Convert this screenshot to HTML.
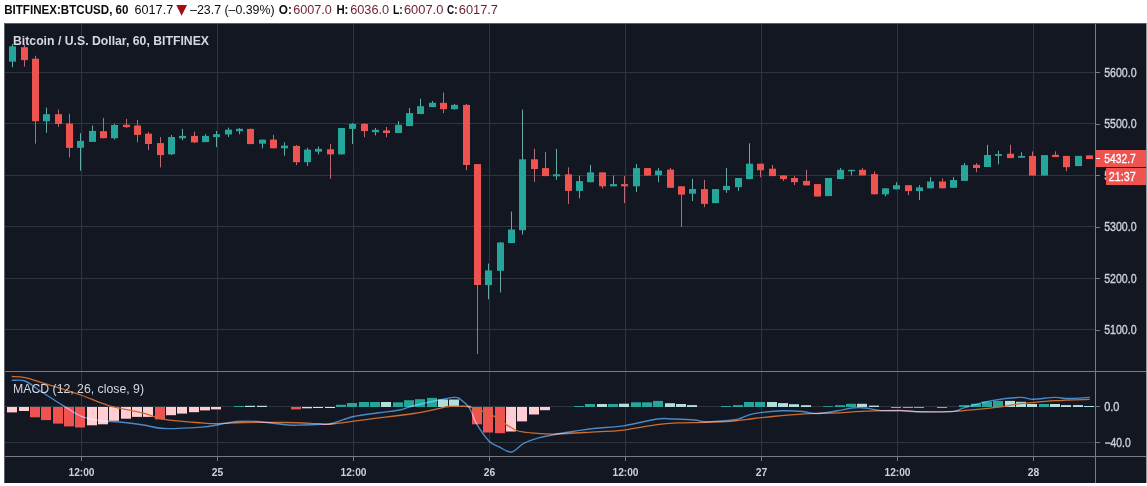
<!DOCTYPE html>
<html><head><meta charset="utf-8"><style>
html,body{margin:0;padding:0;background:#fff;width:1147px;height:486px;overflow:hidden;position:relative;font-family:"Liberation Sans",sans-serif;}
.t{position:absolute;white-space:nowrap;line-height:1;}
</style></head><body>
<svg width="1147" height="486" style="position:absolute;left:0;top:0">
<rect x="4" y="23" width="1143" height="460" fill="#131722"/>
<rect x="4" y="23" width="1143" height="1" fill="#5d606b"/>
<rect x="4" y="23" width="1" height="460" fill="#5d606b"/>
<rect x="1146" y="23" width="1" height="460" fill="#9598a1"/>
<rect x="81" y="24" width="1" height="432" fill="#30343f"/>
<rect x="217" y="24" width="1" height="432" fill="#30343f"/>
<rect x="353" y="24" width="1" height="432" fill="#30343f"/>
<rect x="489" y="24" width="1" height="432" fill="#30343f"/>
<rect x="625" y="24" width="1" height="432" fill="#30343f"/>
<rect x="761" y="24" width="1" height="432" fill="#30343f"/>
<rect x="897" y="24" width="1" height="432" fill="#30343f"/>
<rect x="1033" y="24" width="1" height="432" fill="#30343f"/>
<rect x="5" y="72" width="1090" height="1" fill="#30343f"/>
<rect x="5" y="123" width="1090" height="1" fill="#30343f"/>
<rect x="5" y="175" width="1090" height="1" fill="#30343f"/>
<rect x="5" y="226" width="1090" height="1" fill="#30343f"/>
<rect x="5" y="278" width="1090" height="1" fill="#30343f"/>
<rect x="5" y="329" width="1090" height="1" fill="#30343f"/>
<rect x="5" y="406" width="1090" height="1" fill="#30343f"/>
<rect x="5" y="442" width="1090" height="1" fill="#30343f"/>
<rect x="12" y="44.0" width="1" height="23.3" fill="#62aaa4"/>
<rect x="9" y="46.3" width="7" height="15.3" fill="#26a69a"/>
<rect x="24" y="44.3" width="1" height="22.2" fill="#b86a74"/>
<rect x="21" y="47.2" width="7" height="12.9" fill="#ef5350"/>
<rect x="35" y="55.8" width="1" height="87.8" fill="#b86a74"/>
<rect x="32" y="58.7" width="7" height="62.5" fill="#ef5350"/>
<rect x="46" y="107.6" width="1" height="25.1" fill="#62aaa4"/>
<rect x="43" y="114.2" width="7" height="7.0" fill="#26a69a"/>
<rect x="58" y="109.6" width="1" height="17.3" fill="#b86a74"/>
<rect x="55" y="114.2" width="7" height="9.8" fill="#ef5350"/>
<rect x="69" y="113.7" width="1" height="43.7" fill="#b86a74"/>
<rect x="66" y="123.5" width="7" height="24.4" fill="#ef5350"/>
<rect x="80" y="133.2" width="1" height="37.5" fill="#62aaa4"/>
<rect x="77" y="140.9" width="7" height="6.9" fill="#26a69a"/>
<rect x="92" y="125.5" width="1" height="16.5" fill="#62aaa4"/>
<rect x="89" y="130.9" width="7" height="11.0" fill="#26a69a"/>
<rect x="103" y="117.8" width="1" height="20.4" fill="#b86a74"/>
<rect x="100" y="131.2" width="7" height="7.0" fill="#ef5350"/>
<rect x="114" y="123.8" width="1" height="15.7" fill="#62aaa4"/>
<rect x="111" y="125.0" width="7" height="13.2" fill="#26a69a"/>
<rect x="126" y="118.9" width="1" height="9.1" fill="#b86a74"/>
<rect x="123" y="124.7" width="7" height="2.4" fill="#ef5350"/>
<rect x="137" y="120.0" width="1" height="22.4" fill="#b86a74"/>
<rect x="134" y="125.5" width="7" height="9.4" fill="#ef5350"/>
<rect x="148" y="132.0" width="1" height="18.2" fill="#b86a74"/>
<rect x="145" y="133.7" width="7" height="10.3" fill="#ef5350"/>
<rect x="160" y="137.0" width="1" height="30.4" fill="#b86a74"/>
<rect x="157" y="143.1" width="7" height="12.0" fill="#ef5350"/>
<rect x="171" y="134.9" width="1" height="20.1" fill="#62aaa4"/>
<rect x="168" y="137.0" width="7" height="17.3" fill="#26a69a"/>
<rect x="182" y="128.8" width="1" height="11.5" fill="#62aaa4"/>
<rect x="179" y="135.9" width="7" height="2.4" fill="#26a69a"/>
<rect x="194" y="131.6" width="1" height="11.4" fill="#b86a74"/>
<rect x="191" y="135.9" width="7" height="6.5" fill="#ef5350"/>
<rect x="205" y="134.2" width="1" height="7.9" fill="#62aaa4"/>
<rect x="202" y="135.9" width="7" height="6.2" fill="#26a69a"/>
<rect x="216" y="131.0" width="1" height="16.0" fill="#62aaa4"/>
<rect x="213" y="134.2" width="7" height="2.9" fill="#26a69a"/>
<rect x="228" y="127.6" width="1" height="9.4" fill="#62aaa4"/>
<rect x="225" y="129.6" width="7" height="4.9" fill="#26a69a"/>
<rect x="239" y="128.0" width="1" height="6.2" fill="#62aaa4"/>
<rect x="236" y="128.8" width="7" height="2.4" fill="#26a69a"/>
<rect x="250" y="128.5" width="1" height="15.6" fill="#b86a74"/>
<rect x="247" y="128.9" width="7" height="15.2" fill="#ef5350"/>
<rect x="262" y="139.6" width="1" height="8.7" fill="#62aaa4"/>
<rect x="259" y="139.6" width="7" height="4.1" fill="#26a69a"/>
<rect x="273" y="134.8" width="1" height="13.5" fill="#b86a74"/>
<rect x="270" y="139.6" width="7" height="8.7" fill="#ef5350"/>
<rect x="284" y="142.2" width="1" height="13.5" fill="#62aaa4"/>
<rect x="281" y="145.6" width="7" height="2.7" fill="#26a69a"/>
<rect x="296" y="145.0" width="1" height="20.0" fill="#b86a74"/>
<rect x="293" y="145.9" width="7" height="16.3" fill="#ef5350"/>
<rect x="307" y="147.8" width="1" height="18.1" fill="#62aaa4"/>
<rect x="304" y="149.6" width="7" height="12.6" fill="#26a69a"/>
<rect x="318" y="146.5" width="1" height="7.9" fill="#62aaa4"/>
<rect x="315" y="148.9" width="7" height="2.8" fill="#26a69a"/>
<rect x="330" y="144.0" width="1" height="34.9" fill="#b86a74"/>
<rect x="327" y="149.3" width="7" height="5.1" fill="#ef5350"/>
<rect x="341" y="128.0" width="1" height="26.4" fill="#62aaa4"/>
<rect x="338" y="128.0" width="7" height="26.4" fill="#26a69a"/>
<rect x="352" y="123.0" width="1" height="21.0" fill="#62aaa4"/>
<rect x="349" y="123.9" width="7" height="5.0" fill="#26a69a"/>
<rect x="364" y="123.0" width="1" height="14.2" fill="#b86a74"/>
<rect x="361" y="123.9" width="7" height="7.2" fill="#ef5350"/>
<rect x="375" y="128.0" width="1" height="7.4" fill="#62aaa4"/>
<rect x="372" y="129.8" width="7" height="2.4" fill="#26a69a"/>
<rect x="386" y="127.0" width="1" height="10.2" fill="#b86a74"/>
<rect x="383" y="130.4" width="7" height="2.6" fill="#ef5350"/>
<rect x="398" y="121.1" width="1" height="11.9" fill="#62aaa4"/>
<rect x="395" y="124.8" width="7" height="8.2" fill="#26a69a"/>
<rect x="409" y="108.0" width="1" height="18.1" fill="#62aaa4"/>
<rect x="406" y="113.1" width="7" height="13.0" fill="#26a69a"/>
<rect x="420" y="98.7" width="1" height="15.3" fill="#62aaa4"/>
<rect x="417" y="106.2" width="7" height="7.8" fill="#26a69a"/>
<rect x="432" y="101.0" width="1" height="6.1" fill="#62aaa4"/>
<rect x="429" y="102.8" width="7" height="4.3" fill="#26a69a"/>
<rect x="443" y="92.5" width="1" height="20.6" fill="#b86a74"/>
<rect x="440" y="102.8" width="7" height="6.4" fill="#ef5350"/>
<rect x="454" y="104.0" width="1" height="5.5" fill="#62aaa4"/>
<rect x="451" y="104.9" width="7" height="4.3" fill="#26a69a"/>
<rect x="466" y="104.0" width="1" height="66.2" fill="#b86a74"/>
<rect x="463" y="104.9" width="7" height="60.1" fill="#ef5350"/>
<rect x="477" y="164.0" width="1" height="190.0" fill="#b86a74"/>
<rect x="474" y="164.1" width="7" height="120.9" fill="#ef5350"/>
<rect x="488" y="263.6" width="1" height="35.7" fill="#62aaa4"/>
<rect x="485" y="270.4" width="7" height="14.7" fill="#26a69a"/>
<rect x="500" y="242.0" width="1" height="50.5" fill="#62aaa4"/>
<rect x="497" y="242.5" width="7" height="28.3" fill="#26a69a"/>
<rect x="511" y="211.6" width="1" height="31.5" fill="#62aaa4"/>
<rect x="508" y="229.5" width="7" height="13.6" fill="#26a69a"/>
<rect x="522" y="109.6" width="1" height="124.9" fill="#62aaa4"/>
<rect x="519" y="159.3" width="7" height="70.9" fill="#26a69a"/>
<rect x="534" y="148.7" width="1" height="33.3" fill="#b86a74"/>
<rect x="531" y="159.3" width="7" height="9.7" fill="#ef5350"/>
<rect x="545" y="152.0" width="1" height="24.1" fill="#b86a74"/>
<rect x="542" y="168.1" width="7" height="8.0" fill="#ef5350"/>
<rect x="556" y="148.9" width="1" height="30.9" fill="#62aaa4"/>
<rect x="553" y="174.3" width="7" height="2.0" fill="#26a69a"/>
<rect x="568" y="167.4" width="1" height="36.5" fill="#b86a74"/>
<rect x="565" y="174.3" width="7" height="16.6" fill="#ef5350"/>
<rect x="579" y="175.6" width="1" height="22.7" fill="#62aaa4"/>
<rect x="576" y="181.1" width="7" height="9.8" fill="#26a69a"/>
<rect x="590" y="165.0" width="1" height="17.2" fill="#62aaa4"/>
<rect x="587" y="172.4" width="7" height="9.8" fill="#26a69a"/>
<rect x="602" y="172.4" width="1" height="16.1" fill="#b86a74"/>
<rect x="599" y="172.4" width="7" height="13.9" fill="#ef5350"/>
<rect x="613" y="175.6" width="1" height="10.7" fill="#62aaa4"/>
<rect x="610" y="184.1" width="7" height="2.2" fill="#26a69a"/>
<rect x="624" y="176.1" width="1" height="26.9" fill="#b86a74"/>
<rect x="621" y="184.1" width="7" height="2.2" fill="#ef5350"/>
<rect x="636" y="164.0" width="1" height="27.9" fill="#62aaa4"/>
<rect x="633" y="168.1" width="7" height="18.2" fill="#26a69a"/>
<rect x="647" y="168.1" width="1" height="7.5" fill="#b86a74"/>
<rect x="644" y="168.1" width="7" height="7.5" fill="#ef5350"/>
<rect x="658" y="168.1" width="1" height="14.1" fill="#62aaa4"/>
<rect x="655" y="170.6" width="7" height="4.6" fill="#26a69a"/>
<rect x="670" y="168.0" width="1" height="19.8" fill="#b86a74"/>
<rect x="667" y="169.6" width="7" height="18.2" fill="#ef5350"/>
<rect x="681" y="186.3" width="1" height="40.7" fill="#b86a74"/>
<rect x="678" y="186.3" width="7" height="8.3" fill="#ef5350"/>
<rect x="692" y="178.9" width="1" height="22.2" fill="#62aaa4"/>
<rect x="689" y="189.0" width="7" height="4.7" fill="#26a69a"/>
<rect x="704" y="179.8" width="1" height="27.4" fill="#b86a74"/>
<rect x="701" y="189.1" width="7" height="14.8" fill="#ef5350"/>
<rect x="715" y="189.0" width="1" height="14.1" fill="#62aaa4"/>
<rect x="712" y="189.1" width="7" height="14.0" fill="#26a69a"/>
<rect x="726" y="168.0" width="1" height="24.8" fill="#62aaa4"/>
<rect x="723" y="185.9" width="7" height="4.3" fill="#26a69a"/>
<rect x="738" y="178.0" width="1" height="12.9" fill="#62aaa4"/>
<rect x="735" y="178.0" width="7" height="9.2" fill="#26a69a"/>
<rect x="749" y="143.3" width="1" height="35.8" fill="#62aaa4"/>
<rect x="746" y="163.7" width="7" height="15.4" fill="#26a69a"/>
<rect x="760" y="163.7" width="1" height="13.5" fill="#b86a74"/>
<rect x="757" y="163.7" width="7" height="6.5" fill="#ef5350"/>
<rect x="772" y="165.0" width="1" height="11.1" fill="#b86a74"/>
<rect x="769" y="168.7" width="7" height="7.4" fill="#ef5350"/>
<rect x="783" y="175.4" width="1" height="5.5" fill="#b86a74"/>
<rect x="780" y="175.4" width="7" height="3.7" fill="#ef5350"/>
<rect x="794" y="176.1" width="1" height="8.9" fill="#b86a74"/>
<rect x="791" y="178.0" width="7" height="4.2" fill="#ef5350"/>
<rect x="806" y="169.8" width="1" height="15.6" fill="#b86a74"/>
<rect x="803" y="180.9" width="7" height="4.5" fill="#ef5350"/>
<rect x="817" y="184.1" width="1" height="12.4" fill="#b86a74"/>
<rect x="814" y="184.1" width="7" height="12.4" fill="#ef5350"/>
<rect x="828" y="178.0" width="1" height="18.1" fill="#62aaa4"/>
<rect x="825" y="178.0" width="7" height="18.1" fill="#26a69a"/>
<rect x="840" y="168.0" width="1" height="11.1" fill="#62aaa4"/>
<rect x="837" y="169.8" width="7" height="9.3" fill="#26a69a"/>
<rect x="851" y="169.8" width="1" height="5.6" fill="#62aaa4"/>
<rect x="848" y="169.8" width="7" height="1.5" fill="#26a69a"/>
<rect x="862" y="168.0" width="1" height="7.4" fill="#b86a74"/>
<rect x="859" y="169.8" width="7" height="5.6" fill="#ef5350"/>
<rect x="874" y="171.4" width="1" height="22.9" fill="#b86a74"/>
<rect x="871" y="174.1" width="7" height="20.2" fill="#ef5350"/>
<rect x="885" y="188.3" width="1" height="8.0" fill="#62aaa4"/>
<rect x="882" y="188.3" width="7" height="6.1" fill="#26a69a"/>
<rect x="896" y="182.2" width="1" height="7.1" fill="#62aaa4"/>
<rect x="893" y="185.2" width="7" height="4.1" fill="#26a69a"/>
<rect x="908" y="185.2" width="1" height="10.0" fill="#b86a74"/>
<rect x="905" y="185.2" width="7" height="5.9" fill="#ef5350"/>
<rect x="919" y="185.2" width="1" height="14.8" fill="#62aaa4"/>
<rect x="916" y="187.4" width="7" height="3.7" fill="#26a69a"/>
<rect x="930" y="177.2" width="1" height="11.1" fill="#62aaa4"/>
<rect x="927" y="181.5" width="7" height="6.8" fill="#26a69a"/>
<rect x="942" y="178.5" width="1" height="9.8" fill="#b86a74"/>
<rect x="939" y="181.5" width="7" height="6.8" fill="#ef5350"/>
<rect x="953" y="177.2" width="1" height="10.6" fill="#62aaa4"/>
<rect x="950" y="180.0" width="7" height="7.8" fill="#26a69a"/>
<rect x="964" y="163.0" width="1" height="17.9" fill="#62aaa4"/>
<rect x="961" y="165.2" width="7" height="15.7" fill="#26a69a"/>
<rect x="976" y="163.0" width="1" height="9.2" fill="#b86a74"/>
<rect x="973" y="164.8" width="7" height="3.2" fill="#ef5350"/>
<rect x="987" y="144.8" width="1" height="22.2" fill="#62aaa4"/>
<rect x="984" y="155.0" width="7" height="12.0" fill="#26a69a"/>
<rect x="998" y="150.7" width="1" height="13.6" fill="#62aaa4"/>
<rect x="995" y="154.1" width="7" height="1.8" fill="#26a69a"/>
<rect x="1010" y="144.8" width="1" height="13.3" fill="#b86a74"/>
<rect x="1007" y="153.7" width="7" height="4.4" fill="#ef5350"/>
<rect x="1021" y="152.2" width="1" height="5.6" fill="#62aaa4"/>
<rect x="1018" y="155.9" width="7" height="1.9" fill="#26a69a"/>
<rect x="1032" y="151.5" width="1" height="24.0" fill="#b86a74"/>
<rect x="1029" y="155.9" width="7" height="19.6" fill="#ef5350"/>
<rect x="1044" y="155.1" width="1" height="20.4" fill="#62aaa4"/>
<rect x="1041" y="155.1" width="7" height="20.4" fill="#26a69a"/>
<rect x="1055" y="151.4" width="1" height="5.7" fill="#b86a74"/>
<rect x="1052" y="154.8" width="7" height="2.3" fill="#ef5350"/>
<rect x="1066" y="155.9" width="1" height="15.3" fill="#b86a74"/>
<rect x="1063" y="155.9" width="7" height="11.3" fill="#ef5350"/>
<rect x="1078" y="155.9" width="1" height="10.2" fill="#62aaa4"/>
<rect x="1075" y="155.9" width="7" height="10.2" fill="#26a69a"/>
<rect x="1089" y="155.4" width="1" height="3.6" fill="#b86a74"/>
<rect x="1086" y="155.4" width="7" height="3.6" fill="#ef5350"/>
<rect x="7" y="407.0" width="10" height="5.4" fill="#ffcdd2"/>
<rect x="19" y="407.0" width="10" height="4.0" fill="#ffcdd2"/>
<rect x="30" y="407.0" width="10" height="10.3" fill="#ef5350"/>
<rect x="41" y="407.0" width="10" height="13.1" fill="#ef5350"/>
<rect x="53" y="407.0" width="10" height="16.6" fill="#ef5350"/>
<rect x="64" y="407.0" width="10" height="19.4" fill="#ef5350"/>
<rect x="75" y="407.0" width="10" height="20.5" fill="#ef5350"/>
<rect x="87" y="407.0" width="10" height="18.3" fill="#ffcdd2"/>
<rect x="98" y="407.0" width="10" height="17.3" fill="#ffcdd2"/>
<rect x="109" y="407.0" width="10" height="13.8" fill="#ffcdd2"/>
<rect x="121" y="407.0" width="10" height="11.7" fill="#ffcdd2"/>
<rect x="132" y="407.0" width="10" height="9.9" fill="#ffcdd2"/>
<rect x="143" y="407.0" width="10" height="9.9" fill="#ffcdd2"/>
<rect x="155" y="407.0" width="10" height="12.4" fill="#ef5350"/>
<rect x="166" y="407.0" width="10" height="8.2" fill="#ffcdd2"/>
<rect x="177" y="407.0" width="10" height="6.6" fill="#ffcdd2"/>
<rect x="189" y="407.0" width="10" height="5.2" fill="#ffcdd2"/>
<rect x="200" y="407.0" width="10" height="3.4" fill="#ffcdd2"/>
<rect x="211" y="407.0" width="10" height="2.4" fill="#ffcdd2"/>
<rect x="234" y="406.0" width="10" height="1.0" fill="#26a69a"/>
<rect x="245" y="405.8" width="10" height="1.2" fill="#b2dfdb"/>
<rect x="257" y="405.8" width="10" height="1.2" fill="#b2dfdb"/>
<rect x="291" y="407.0" width="10" height="2.4" fill="#ef5350"/>
<rect x="302" y="407.0" width="10" height="1.3" fill="#ffcdd2"/>
<rect x="313" y="407.0" width="10" height="1.0" fill="#ffcdd2"/>
<rect x="325" y="407.0" width="10" height="1.0" fill="#ffcdd2"/>
<rect x="336" y="404.8" width="10" height="2.2" fill="#26a69a"/>
<rect x="347" y="403.0" width="10" height="4.0" fill="#26a69a"/>
<rect x="359" y="402.0" width="10" height="5.0" fill="#26a69a"/>
<rect x="370" y="402.0" width="10" height="5.0" fill="#26a69a"/>
<rect x="381" y="402.0" width="10" height="5.0" fill="#b2dfdb"/>
<rect x="393" y="402.3" width="10" height="4.7" fill="#26a69a"/>
<rect x="404" y="400.2" width="10" height="6.8" fill="#26a69a"/>
<rect x="415" y="399.2" width="10" height="7.8" fill="#26a69a"/>
<rect x="427" y="397.9" width="10" height="9.1" fill="#26a69a"/>
<rect x="438" y="399.5" width="10" height="7.5" fill="#b2dfdb"/>
<rect x="449" y="399.5" width="10" height="7.5" fill="#b2dfdb"/>
<rect x="461" y="405.8" width="10" height="1.2" fill="#b2dfdb"/>
<rect x="472" y="407.0" width="10" height="17.3" fill="#ef5350"/>
<rect x="483" y="407.0" width="10" height="25.5" fill="#ef5350"/>
<rect x="495" y="407.0" width="10" height="26.2" fill="#ef5350"/>
<rect x="506" y="407.0" width="10" height="24.5" fill="#ffcdd2"/>
<rect x="517" y="407.0" width="10" height="14.4" fill="#ffcdd2"/>
<rect x="529" y="407.0" width="10" height="7.5" fill="#ffcdd2"/>
<rect x="540" y="407.0" width="10" height="3.2" fill="#ffcdd2"/>
<rect x="574" y="406.0" width="10" height="1.0" fill="#26a69a"/>
<rect x="585" y="404.0" width="10" height="3.0" fill="#26a69a"/>
<rect x="597" y="404.0" width="10" height="3.0" fill="#b2dfdb"/>
<rect x="608" y="404.0" width="10" height="3.0" fill="#26a69a"/>
<rect x="619" y="403.7" width="10" height="3.3" fill="#b2dfdb"/>
<rect x="631" y="402.3" width="10" height="4.7" fill="#26a69a"/>
<rect x="642" y="402.3" width="10" height="4.7" fill="#26a69a"/>
<rect x="653" y="400.9" width="10" height="6.1" fill="#26a69a"/>
<rect x="665" y="403.2" width="10" height="3.8" fill="#b2dfdb"/>
<rect x="676" y="404.0" width="10" height="3.0" fill="#b2dfdb"/>
<rect x="687" y="405.1" width="10" height="1.9" fill="#b2dfdb"/>
<rect x="721" y="406.0" width="10" height="1.0" fill="#26a69a"/>
<rect x="733" y="405.1" width="10" height="1.9" fill="#26a69a"/>
<rect x="744" y="402.0" width="10" height="5.0" fill="#26a69a"/>
<rect x="755" y="402.0" width="10" height="5.0" fill="#26a69a"/>
<rect x="767" y="402.0" width="10" height="5.0" fill="#b2dfdb"/>
<rect x="778" y="403.1" width="10" height="3.9" fill="#b2dfdb"/>
<rect x="789" y="404.2" width="10" height="2.8" fill="#b2dfdb"/>
<rect x="801" y="405.2" width="10" height="1.8" fill="#b2dfdb"/>
<rect x="823" y="406.2" width="10" height="0.8" fill="#26a69a"/>
<rect x="835" y="405.2" width="10" height="1.8" fill="#26a69a"/>
<rect x="846" y="403.8" width="10" height="3.2" fill="#26a69a"/>
<rect x="857" y="403.8" width="10" height="3.2" fill="#b2dfdb"/>
<rect x="869" y="405.6" width="10" height="1.4" fill="#b2dfdb"/>
<rect x="891" y="407.0" width="10" height="1.0" fill="#e0808c"/>
<rect x="903" y="407.0" width="10" height="1.0" fill="#e0808c"/>
<rect x="914" y="407.0" width="10" height="1.0" fill="#e0808c"/>
<rect x="937" y="407.0" width="10" height="1.0" fill="#e0808c"/>
<rect x="959" y="405.1" width="10" height="1.9" fill="#26a69a"/>
<rect x="971" y="403.7" width="10" height="3.3" fill="#26a69a"/>
<rect x="982" y="401.6" width="10" height="5.4" fill="#26a69a"/>
<rect x="993" y="400.9" width="10" height="6.1" fill="#26a69a"/>
<rect x="1005" y="400.9" width="10" height="6.1" fill="#b2dfdb"/>
<rect x="1016" y="401.8" width="10" height="5.2" fill="#b2dfdb"/>
<rect x="1027" y="404.0" width="10" height="3.0" fill="#b2dfdb"/>
<rect x="1039" y="404.0" width="10" height="3.0" fill="#26a69a"/>
<rect x="1050" y="404.0" width="10" height="3.0" fill="#b2dfdb"/>
<rect x="1061" y="405.1" width="10" height="1.9" fill="#b2dfdb"/>
<rect x="1073" y="405.1" width="10" height="1.9" fill="#b2dfdb"/>
<rect x="1084" y="406.0" width="10" height="1.0" fill="#b2dfdb"/>
<path d="M11.7,376.5 C13.9,376.7 19.3,376.4 25.0,377.6 C30.7,378.8 36.5,381.0 45.8,383.9 C55.1,386.8 70.2,391.4 80.7,395.0 C91.2,398.6 98.1,402.5 108.6,405.5 C119.1,408.5 134.3,410.8 143.5,413.1 C152.7,415.4 154.3,417.8 164.0,419.4 C173.7,421.0 192.7,422.2 201.8,422.9 C210.9,423.6 211.6,423.7 218.6,423.6 C225.6,423.5 232.5,422.7 243.7,422.5 C254.8,422.3 272.8,422.3 285.5,422.5 C298.2,422.7 312.1,423.6 320.0,423.9 C327.9,424.1 324.1,424.9 332.7,424.0 C341.3,423.1 358.3,420.6 371.8,418.8 C385.3,417.1 402.0,415.3 413.6,413.5 C425.2,411.7 435.7,409.1 441.5,407.9 C447.3,406.7 443.9,406.7 448.5,406.5 C453.1,406.3 462.1,405.4 469.4,406.8 C476.6,408.2 485.8,412.2 492.0,415.2 C498.2,418.2 502.1,422.0 506.4,424.6 C510.7,427.2 513.2,429.6 518.0,431.0 C522.8,432.4 528.8,432.7 535.3,433.2 C541.8,433.7 546.8,434.2 556.9,434.0 C567.0,433.8 585.4,432.4 596.0,431.8 C606.6,431.2 610.5,431.6 620.7,430.4 C630.9,429.2 647.0,425.9 657.0,424.6 C667.0,423.3 672.6,423.2 680.7,422.8 C688.8,422.4 697.0,422.7 705.8,422.4 C714.6,422.1 725.7,421.6 733.7,421.0 C741.7,420.4 746.0,419.4 754.0,418.5 C762.0,417.6 772.5,416.5 781.8,415.7 C791.1,414.9 800.4,414.1 809.7,413.6 C819.0,413.1 828.3,413.3 837.6,412.9 C846.9,412.5 855.1,411.6 865.5,411.2 C875.9,410.8 890.6,410.3 900.0,410.4 C909.4,410.5 912.8,411.6 921.8,411.8 C930.8,412.0 944.6,411.8 953.9,411.4 C963.2,411.0 970.2,410.0 977.6,409.3 C985.0,408.6 991.5,408.1 998.5,407.2 C1005.5,406.3 1014.9,404.4 1019.5,403.7 C1024.1,403.0 1020.3,403.6 1026.2,403.1 C1032.1,402.6 1044.3,401.3 1054.9,400.7 C1065.5,400.1 1084.0,399.6 1089.8,399.4" fill="none" stroke="#cc6d30" stroke-width="1.3" stroke-linejoin="round"/>
<path d="M11.7,380.4 C13.9,380.5 20.5,379.4 25.0,381.0 C29.5,382.6 32.4,385.8 38.9,390.0 C45.4,394.2 56.8,401.8 64.0,406.2 C71.2,410.6 75.7,414.2 82.0,416.6 C88.3,419.0 95.3,419.9 101.6,420.8 C107.9,421.7 112.8,421.3 119.8,422.0 C126.8,422.7 136.1,423.9 143.5,425.0 C150.9,426.1 154.3,428.1 164.0,428.5 C173.7,428.9 192.7,427.7 201.8,427.1 C210.9,426.5 212.8,425.6 218.6,424.7 C224.4,423.8 230.2,422.0 236.7,421.5 C243.2,421.0 249.0,420.9 257.6,421.5 C266.2,422.1 280.9,424.4 288.3,425.0 C295.8,425.6 297.0,425.1 302.3,425.0 C307.6,424.9 314.9,424.6 320.0,424.3 C325.1,424.0 327.1,424.5 332.7,423.2 C338.3,421.9 346.0,418.2 353.7,416.5 C361.4,414.8 371.1,413.9 378.8,412.8 C386.5,411.7 394.4,411.1 399.7,410.0 C405.0,408.9 404.8,408.1 410.8,406.5 C416.9,404.9 428.8,402.1 436.0,400.6 C443.2,399.1 450.1,397.7 454.0,397.4 C457.9,397.1 457.1,397.1 459.7,398.8 C462.3,400.6 466.6,403.8 469.4,407.9 C472.1,411.9 472.9,417.6 476.2,423.1 C479.5,428.7 485.3,437.2 489.1,441.2 C492.9,445.2 495.5,445.1 499.2,446.9 C502.9,448.7 507.4,452.6 511.5,452.0 C515.6,451.4 519.0,445.7 523.7,443.3 C528.4,440.9 534.1,439.2 539.6,437.6 C545.1,436.1 550.4,435.2 556.9,434.0 C563.4,432.8 572.0,431.6 578.5,430.6 C585.0,429.6 588.3,429.0 596.0,428.2 C603.7,427.4 614.7,427.1 624.9,425.6 C635.1,424.1 648.9,420.1 657.0,419.0 C665.1,417.9 667.4,418.8 673.7,419.0 C680.0,419.2 689.2,419.5 694.6,420.0 C700.0,420.5 699.1,421.9 705.8,421.8 C712.5,421.7 729.3,420.2 735.0,419.6 C740.7,419.1 736.8,419.5 740.0,418.5 C743.2,417.5 747.0,414.9 754.0,413.6 C761.0,412.3 773.7,411.2 781.8,410.8 C789.9,410.4 797.0,411.0 802.8,411.5 C808.6,412.0 810.9,413.7 816.7,413.6 C822.5,413.5 831.8,411.7 837.6,410.8 C843.4,409.9 847.0,408.5 851.6,408.0 C856.2,407.5 860.9,407.6 865.5,408.0 C870.1,408.4 873.8,409.9 879.5,410.4 C885.2,410.9 893.0,410.6 900.0,410.8 C907.0,411.0 912.8,411.7 921.8,411.8 C930.8,411.9 946.9,412.0 953.9,411.4 C960.9,410.8 957.4,409.7 963.7,407.9 C970.0,406.1 982.2,402.4 991.6,400.6 C1001.0,398.9 1013.1,397.6 1020.0,397.4 C1026.9,397.2 1027.3,399.2 1033.1,399.2 C1038.9,399.2 1049.1,397.5 1054.9,397.4 C1060.7,397.3 1062.2,398.5 1068.0,398.5 C1073.8,398.5 1086.2,397.6 1089.8,397.4" fill="none" stroke="#3a7cc0" stroke-width="1.4" stroke-linejoin="round" style="mix-blend-mode:screen"/>
<rect x="1095" y="24" width="1" height="459" fill="#787b86"/>
<rect x="5" y="371" width="1141" height="1" fill="#787b86"/>
<rect x="5" y="456" width="1141" height="1" fill="#787b86"/>
<g font-family="Liberation Sans, sans-serif"><text x="4.2" y="14" font-size="12" font-weight="bold" fill="#0c0c10" textLength="124.3" lengthAdjust="spacingAndGlyphs">BITFINEX:BTCUSD, 60</text>
<text x="134.5" y="14" font-size="12" font-weight="normal" fill="#0c0c10" textLength="38.7" lengthAdjust="spacingAndGlyphs">6017.7</text>
<polygon points="176.3,5.1 187,5.1 181.6,15.7" fill="#a30d14"/>
<text x="190.1" y="14" font-size="12" font-weight="normal" fill="#0c0c10" textLength="84.5" lengthAdjust="spacingAndGlyphs">–23.7 (–0.39%)</text>
<text x="278.8" y="14" font-size="12" font-weight="bold" fill="#0c0c10" textLength="13.1" lengthAdjust="spacingAndGlyphs">O:</text>
<text x="293.2" y="14" font-size="12" font-weight="normal" fill="#6e1f2b" textLength="38.7" lengthAdjust="spacingAndGlyphs">6007.0</text>
<text x="336.4" y="14" font-size="12" font-weight="bold" fill="#0c0c10" textLength="12" lengthAdjust="spacingAndGlyphs">H:</text>
<text x="350.2" y="14" font-size="12" font-weight="normal" fill="#6e1f2b" textLength="39" lengthAdjust="spacingAndGlyphs">6036.0</text>
<text x="392.9" y="14" font-size="12" font-weight="bold" fill="#0c0c10" textLength="9.8" lengthAdjust="spacingAndGlyphs">L:</text>
<text x="403.9" y="14" font-size="12" font-weight="normal" fill="#6e1f2b" textLength="39.4" lengthAdjust="spacingAndGlyphs">6007.0</text>
<text x="447" y="14" font-size="12" font-weight="bold" fill="#0c0c10" textLength="10.5" lengthAdjust="spacingAndGlyphs">C:</text>
<text x="458.8" y="14" font-size="12" font-weight="normal" fill="#6e1f2b" textLength="39.2" lengthAdjust="spacingAndGlyphs">6017.7</text>
<text x="13" y="45" font-size="12.3" font-weight="bold" fill="#d6d8de" textLength="196" lengthAdjust="spacingAndGlyphs">Bitcoin / U.S. Dollar, 60, BITFINEX</text>
<text x="13" y="393" font-size="12" font-weight="normal" fill="#d6d8de" textLength="131" lengthAdjust="spacingAndGlyphs">MACD (12, 26, close, 9)</text>
<rect x="1096" y="72" width="4" height="1" fill="#787b86"/>
<text x="1104.2" y="76.9" font-size="12" font-weight="normal" fill="#cfd1d8" stroke="#cfd1d8" stroke-width="0.35" textLength="32.4" lengthAdjust="spacingAndGlyphs">5600.0</text>
<rect x="1096" y="124" width="4" height="1" fill="#787b86"/>
<text x="1104.2" y="128.4" font-size="12" font-weight="normal" fill="#cfd1d8" stroke="#cfd1d8" stroke-width="0.35" textLength="32.4" lengthAdjust="spacingAndGlyphs">5500.0</text>
<rect x="1096" y="175" width="4" height="1" fill="#787b86"/>
<text x="1104.2" y="179.9" font-size="12" font-weight="normal" fill="#cfd1d8" stroke="#cfd1d8" stroke-width="0.35" textLength="32.4" lengthAdjust="spacingAndGlyphs">5400.0</text>
<rect x="1096" y="227" width="4" height="1" fill="#787b86"/>
<text x="1104.2" y="231.4" font-size="12" font-weight="normal" fill="#cfd1d8" stroke="#cfd1d8" stroke-width="0.35" textLength="32.4" lengthAdjust="spacingAndGlyphs">5300.0</text>
<rect x="1096" y="278" width="4" height="1" fill="#787b86"/>
<text x="1104.2" y="282.9" font-size="12" font-weight="normal" fill="#cfd1d8" stroke="#cfd1d8" stroke-width="0.35" textLength="32.4" lengthAdjust="spacingAndGlyphs">5200.0</text>
<rect x="1096" y="330" width="4" height="1" fill="#787b86"/>
<text x="1104.2" y="334.4" font-size="12" font-weight="normal" fill="#cfd1d8" stroke="#cfd1d8" stroke-width="0.35" textLength="32.4" lengthAdjust="spacingAndGlyphs">5100.0</text>
<rect x="1096" y="406" width="4" height="1" fill="#787b86"/>
<text x="1104.2" y="410.9" font-size="12" font-weight="normal" fill="#cfd1d8" stroke="#cfd1d8" stroke-width="0.35" textLength="15.3" lengthAdjust="spacingAndGlyphs">0.0</text>
<rect x="1096" y="442" width="4" height="1" fill="#787b86"/>
<text x="1104.5" y="446.8" font-size="12" font-weight="normal" fill="#cfd1d8" stroke="#cfd1d8" stroke-width="0.35" textLength="26.2" lengthAdjust="spacingAndGlyphs">−40.0</text>
<rect x="81" y="457" width="1" height="4" fill="#787b86"/>
<text x="68.5" y="475.5" font-size="11.8" font-weight="bold" fill="#cfd1d8" textLength="26" lengthAdjust="spacingAndGlyphs">12:00</text>
<rect x="217" y="457" width="1" height="4" fill="#787b86"/>
<text x="211.8" y="475.5" font-size="11.8" font-weight="bold" fill="#cfd1d8" textLength="11.5" lengthAdjust="spacingAndGlyphs">25</text>
<rect x="353" y="457" width="1" height="4" fill="#787b86"/>
<text x="340.5" y="475.5" font-size="11.8" font-weight="bold" fill="#cfd1d8" textLength="26" lengthAdjust="spacingAndGlyphs">12:00</text>
<rect x="489" y="457" width="1" height="4" fill="#787b86"/>
<text x="483.8" y="475.5" font-size="11.8" font-weight="bold" fill="#cfd1d8" textLength="11.5" lengthAdjust="spacingAndGlyphs">26</text>
<rect x="625" y="457" width="1" height="4" fill="#787b86"/>
<text x="612.5" y="475.5" font-size="11.8" font-weight="bold" fill="#cfd1d8" textLength="26" lengthAdjust="spacingAndGlyphs">12:00</text>
<rect x="761" y="457" width="1" height="4" fill="#787b86"/>
<text x="755.8" y="475.5" font-size="11.8" font-weight="bold" fill="#cfd1d8" textLength="11.5" lengthAdjust="spacingAndGlyphs">27</text>
<rect x="897" y="457" width="1" height="4" fill="#787b86"/>
<text x="884.5" y="475.5" font-size="11.8" font-weight="bold" fill="#cfd1d8" textLength="26" lengthAdjust="spacingAndGlyphs">12:00</text>
<rect x="1033" y="457" width="1" height="4" fill="#787b86"/>
<text x="1027.8" y="475.5" font-size="11.8" font-weight="bold" fill="#cfd1d8" textLength="11.5" lengthAdjust="spacingAndGlyphs">28</text>
<rect x="1096" y="150" width="50" height="17" fill="#ef5350"/>
<text x="1104.3" y="162.7" font-size="12" font-weight="normal" fill="#ffffff" stroke="#ffffff" stroke-width="0.3" textLength="31.5" lengthAdjust="spacingAndGlyphs">5432.7</text>
<rect x="1106" y="168" width="40" height="17" fill="#ef5350"/>
<text x="1108.8" y="180.6" font-size="12" font-weight="normal" fill="#ffffff" stroke="#ffffff" stroke-width="0.3" textLength="27" lengthAdjust="spacingAndGlyphs">21:37</text>
<rect x="1096" y="158" width="4" height="1" fill="#ffffff"/></g>
</svg>
</body></html>
